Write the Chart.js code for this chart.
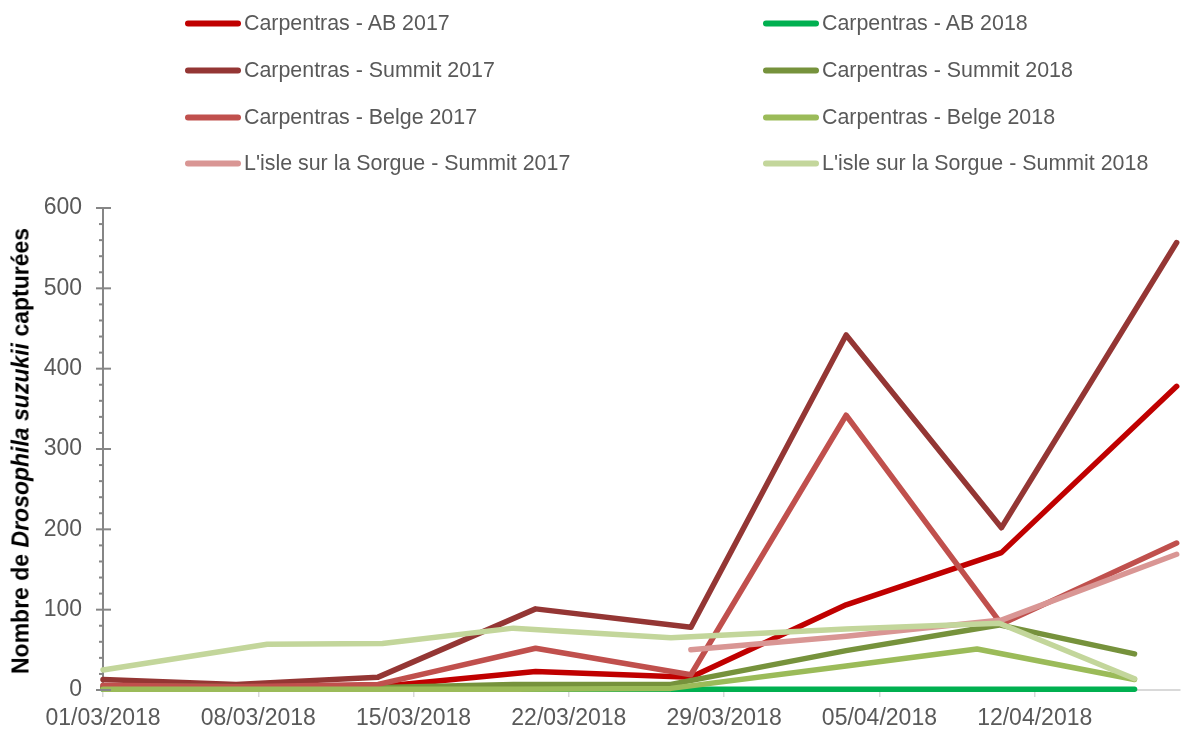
<!DOCTYPE html>
<html><head><meta charset="utf-8">
<script src="https://cdn.jsdelivr.net/npm/chart.js@4.4.1/dist/chart.umd.min.js"></script>
<style>
html,body{margin:0;padding:0;background:#fff;}
#wrap{position:relative;width:1181px;height:733px;overflow:hidden;font-family:"Liberation Sans",Arial,sans-serif;}
#chartBox{position:absolute;left:0;top:0;width:1181px;height:733px;}
.leg{position:absolute;display:flex;align-items:center;color:#595959;font-size:21.4px;white-space:nowrap;transform:translateY(-50%);}
.leg .l{display:inline-block;width:56px;height:6px;border-radius:3px;margin-right:3px;}
#ytitle{position:absolute;left:21px;top:451px;transform:translate(-50%,-50%) rotate(-90deg);font-weight:bold;font-size:23px;color:#000;white-space:nowrap;}
</style></head>
<body>
<div id="wrap">
  <div id="chartBox"><canvas id="c" width="1181" height="733"></canvas></div>
  <div id="ytitle">Nombre de <i>Drosophila suzukii</i> capturées</div>
</div>
<script>
// ---- data ----
const xTickLabels = ['01/03/2018','08/03/2018','15/03/2018','22/03/2018','29/03/2018','05/04/2018','12/04/2018'];
const yTickValues = [0, 100, 200, 300, 400, 500, 600];

// x positions expressed as days after 01/03/2018
const days2017      = [0, 6, 12.4, 19.5, 26.5, 33.5, 40.5, 48.4];
const daysIsle2017  = [26.5, 33.5, 40.5, 48.4];
const days2018      = [0, 7.4, 12.6, 18.5, 25.6, 33.5, 40.4, 46.5];
const daysBelge2018 = [0, 7.4, 12.6, 18.5, 25.6, 33.5, 39.4, 46.5];

const ab2017     = [3, 3, 4, 23, 16, 106, 171, 378];
const summit2017 = [13, 7, 16, 101, 78, 442, 202, 557];
const belge2017  = [6, 4, 7, 52, 19, 342, 82, 183];
const isle2017   = [50, 67, 87, 169];

const ab2018     = [1, 1, 1, 1, 1, 1, 1, 1];
const summit2018 = [5, 4, 3, 7, 7, 49, 81, 45];
const belge2018  = [1, 1, 1, 1, 2, 30, 51, 13];
const isle2018   = [25, 57, 58, 77, 65, 76, 83, 14];

const seriesNames = [
  'Carpentras - AB 2017', 'Carpentras - AB 2018',
  'Carpentras - Summit 2017', 'Carpentras - Summit 2018',
  'Carpentras - Belge 2017', 'Carpentras - Belge 2018',
  "L'isle sur la Sorgue - Summit 2017", "L'isle sur la Sorgue - Summit 2018"
];
const seriesColors = ['#C00000', '#00B050', '#943634', '#76923C', '#C0504D', '#9BBB59', '#D99694', '#C3D69B'];
const seriesX = [days2017, days2018, days2017, days2018, days2017, daysBelge2018, daysIsle2017, days2018];
const seriesY = [ab2017, ab2018, summit2017, summit2018, belge2017, belge2018, isle2017, isle2018];

// ---- legend (HTML, two columns) ----
const legCols = [185, 763];
const legRows = [23, 70, 117, 163];
const wrap = document.getElementById('wrap');
seriesNames.forEach((n, i) => {
  const d = document.createElement('div');
  d.className = 'leg';
  d.style.left = legCols[i % 2] + 'px';
  d.style.top = legRows[Math.floor(i / 2)] + 'px';
  const l = document.createElement('span');
  l.className = 'l';
  l.style.background = seriesColors[i];
  const t = document.createElement('span');
  t.textContent = n;
  d.appendChild(l); d.appendChild(t);
  wrap.appendChild(d);
});

// ---- chart ----
const datasets = seriesNames.map((n, i) => ({
  label: n,
  data: seriesX[i].map((x, k) => ({x: x, y: seriesY[i][k]})),
  borderColor: seriesColors[i],
  backgroundColor: seriesColors[i],
  borderWidth: 5.5,
  borderCapStyle: 'round',
  borderJoinStyle: 'round',
  pointRadius: 0,
  tension: 0,
  fill: false,
  clip: false,
  order: seriesNames.length - i
}));

const yTickPlugin = {
  id: 'yTickPlugin',
  afterDraw(chart) {
    const ys = chart.scales.y, ctx = chart.ctx, x0 = chart.chartArea.left;
    ctx.save();
    ctx.strokeStyle = '#868686';
    ctx.lineWidth = 2;
    for (let v = ys.min; v <= ys.max; v += 20) {
      const py = ys.getPixelForValue(v);
      const major = v % 100 === 0;
      ctx.beginPath();
      ctx.moveTo(x0 - (major ? 7 : 4), py);
      ctx.lineTo(x0 + (major ? 8 : 0), py);
      ctx.stroke();
    }
    ctx.restore();
  }
};

new Chart(document.getElementById('c'), {
  type: 'line',
  data: { datasets },
  plugins: [yTickPlugin],
  options: {
    responsive: false,
    animation: false,
    events: [],
    layout: { padding: { top: 208, right: 1, bottom: 0, left: 0 } },
    plugins: { legend: { display: false }, tooltip: { enabled: false } },
    scales: {
      x: {
        type: 'linear',
        min: 0,
        max: 48.55,
        afterFit(s) { s.height = 43; },
        afterBuildTicks(s) { s.ticks = s.ticks.filter(t => Math.abs(t.value % 7) < 1e-6); },
        grid: { display: true, drawOnChartArea: false, drawTicks: true, tickLength: 7, color: '#D9D9D9', lineWidth: 1.5 },
        border: { display: true, color: '#D9D9D9', width: 2 },
        ticks: {
          stepSize: 7,
          autoSkip: false,
          maxRotation: 0,
          padding: 8,
          color: '#595959',
          font: { family: '"Liberation Sans", Arial, sans-serif', size: 23 },
          callback: (v) => xTickLabels[Math.round(v / 7)]
        }
      },
      y: {
        min: 0,
        max: 600,
        afterFit(s) { s.width = 103; },
        afterBuildTicks(s) { s.ticks = yTickValues.map(v => ({value: v})); },
        grid: { display: false, drawTicks: false },
        border: { display: true, color: '#868686', width: 2 },
        ticks: {
          padding: 21,
          color: '#595959',
          font: { family: '"Liberation Sans", Arial, sans-serif', size: 23 }
        }
      }
    }
  }
});
</script>
</body></html>
